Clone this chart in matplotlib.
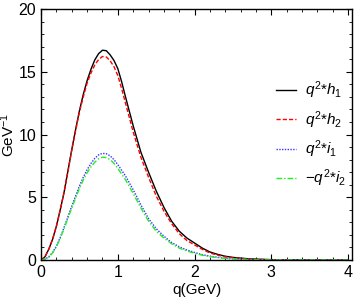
import matplotlib
matplotlib.use("Agg")
import matplotlib.pyplot as plt
from matplotlib.ticker import MultipleLocator

plt.rcParams['font.family'] = ['Liberation Sans', 'DejaVu Sans']
plt.rcParams['mathtext.fontset'] = 'custom'
plt.rcParams['mathtext.it'] = 'Liberation Sans:italic'
plt.rcParams['mathtext.rm'] = 'Liberation Sans'

q = [0.0, 0.05, 0.1, 0.15, 0.2, 0.25, 0.3, 0.35, 0.4, 0.45, 0.5, 0.55, 0.6,
     0.65, 0.7, 0.75, 0.8, 0.85, 0.9, 0.95, 1.0, 1.05, 1.1, 1.2, 1.3, 1.4,
     1.5, 1.6, 1.7, 1.8, 1.9, 2.0, 2.1, 2.2, 2.3, 2.4, 2.5, 2.6, 2.7, 2.8,
     3.0, 3.2, 3.5, 4.0]
h1 = [0.0, 0.25, 0.85, 1.65, 2.7, 4.0, 5.4, 7.1, 8.8, 10.4, 11.9, 13.2, 14.3,
      15.2, 15.95, 16.45, 16.72, 16.68, 16.35, 15.9, 15.25, 14.2, 13.0, 10.7,
      8.6, 7.0, 5.5, 4.2, 3.1, 2.3, 1.75, 1.35, 0.95, 0.64, 0.45, 0.3, 0.21,
      0.15, 0.1, 0.07, 0.03, 0.015, 0.005, 0.0]
h2 = [0.0, 0.25, 0.85, 1.65, 2.7, 4.0, 5.4, 7.05, 8.75, 10.3, 11.8, 13.0, 14.1,
      14.9, 15.55, 15.98, 16.22, 16.18, 15.88, 15.4, 14.7, 13.65, 12.5, 10.2,
      8.2, 6.6, 5.1, 3.9, 2.9, 2.1, 1.55, 1.2, 0.85, 0.56, 0.39, 0.26, 0.18,
      0.13, 0.09, 0.06, 0.025, 0.012, 0.004, 0.0]
i1 = [0.0, 0.07, 0.25, 0.6, 1.1, 1.8, 2.6, 3.45, 4.3, 5.1, 5.9, 6.6, 7.2,
      7.7, 8.1, 8.38, 8.5, 8.47, 8.3, 8.0, 7.6, 7.15, 6.7, 5.6, 4.4, 3.3,
      2.5, 1.9, 1.4, 1.05, 0.8, 0.6, 0.43, 0.31, 0.22, 0.15, 0.1, 0.07, 0.05,
      0.035, 0.015, 0.007, 0.002, 0.0]
i2 = [0.0, 0.06, 0.23, 0.57, 1.05, 1.72, 2.5, 3.32, 4.15, 4.93, 5.7, 6.38,
      6.95, 7.43, 7.8, 8.07, 8.2, 8.16, 8.0, 7.7, 7.3, 6.85, 6.4, 5.3, 4.15,
      3.1, 2.3, 1.75, 1.3, 0.95, 0.72, 0.54, 0.38, 0.27, 0.19, 0.13, 0.09,
      0.06, 0.04, 0.03, 0.012, 0.006, 0.002, 0.0]

fig = plt.figure(figsize=(3.57, 3.02), dpi=100)
ax = fig.add_axes([0.115, 0.139, 0.871, 0.831])

ax.plot(q, h1, color='black', lw=1.0, ls='-', label=r'$q^2{*}h_1$')
ax.plot(q, h2, color='red', lw=1.0, ls=(0, (3, 1.5)), label=r'$q^2{*}h_2$')
ax.plot(q, i1, color='#3333ff', lw=1.0, ls=(0, (1, 1)), label=r'$q^2{*}i_1$')
ax.plot(q, i2, color='#22ee22', lw=1.0, ls=(0, (4, 1.5, 1, 1.5)), label=r'$-q^2{*}i_2$')

ax.set_xlim(0, 4.05)
ax.set_ylim(0, 20)
ax.xaxis.set_major_locator(MultipleLocator(1))
ax.xaxis.set_minor_locator(MultipleLocator(0.2))
ax.yaxis.set_major_locator(MultipleLocator(5))
ax.yaxis.set_minor_locator(MultipleLocator(1))
ax.tick_params(which='both', direction='in', top=True, right=True, labelsize=11.5)
ax.tick_params(which='major', length=4, width=0.8)
ax.tick_params(which='minor', length=2, width=0.6)
for s in ax.spines.values():
    s.set_linewidth(1.0)

ax.set_xlabel('q(GeV)', fontsize=11, labelpad=2)
ax.set_ylabel(r'GeV$^{-1}$', fontsize=11, labelpad=1)

ax.legend(loc='center right', bbox_to_anchor=(1.025, 0.5), frameon=False,
          fontsize=11, handlelength=1.3, handletextpad=0.6, labelspacing=0.5)

fig.savefig('out.png', dpi=100)
